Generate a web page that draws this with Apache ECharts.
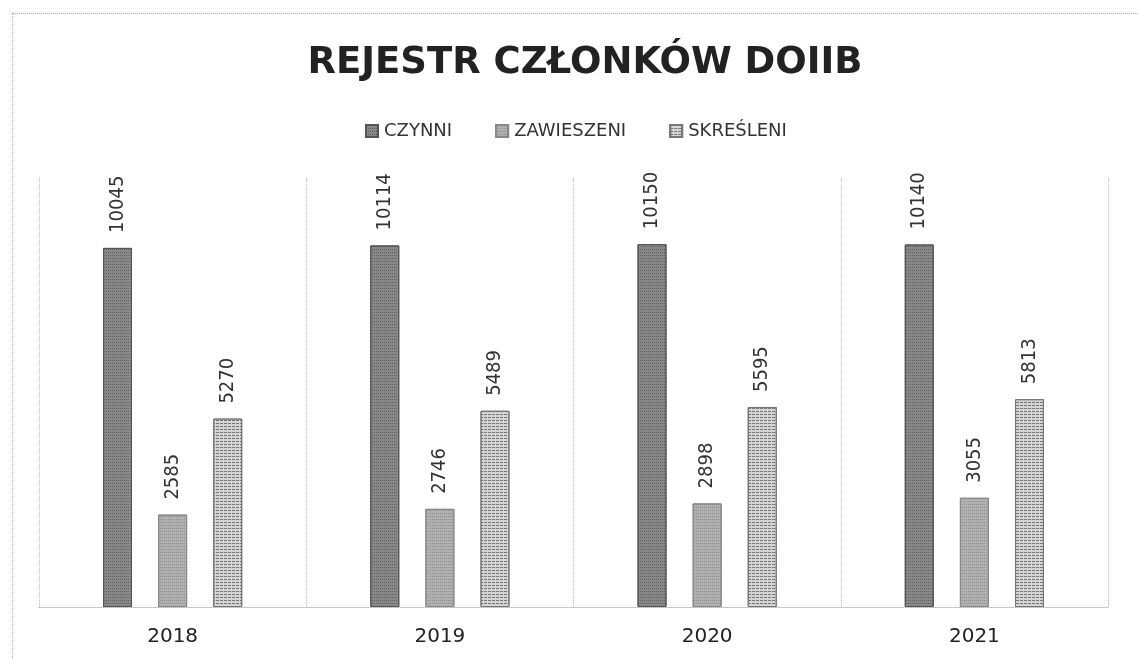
<!DOCTYPE html>
<html><head><meta charset="utf-8">
<script src="https://cdn.jsdelivr.net/npm/echarts@6/dist/echarts.min.js"></script>
<style>
html,body{margin:0;padding:0;background:#fff;}
#c{width:1138px;height:659px;position:relative;}
#frame{position:absolute;left:12px;top:13px;width:1140px;height:660px;border:1px dotted #aaa;box-sizing:border-box;pointer-events:none;}
</style></head>
<body><div id="c"></div><div id="frame"></div>
<script>
const categories = ['2018', '2019', '2020', '2021'];
const czynni = [10045, 10114, 10150, 10140];
const zawieszeni = [2585, 2746, 2898, 3055];
const skresleni = [5270, 5489, 5595, 5813];
const seriesNames = ['CZYNNI', 'ZAWIESZENI', 'SKREŚLENI'];
const titleText = 'REJESTR CZŁONKÓW DOIIB';

const chart = echarts.init(document.getElementById('c'));
const labelCfg = {
  show: true, position: 'top', rotate: 90, distance: 15, align: 'left', verticalAlign: 'middle',
  fontFamily: '"Liberation Sans Narrow", "DejaVu Sans Condensed", "DejaVu Sans"', fontSize: 20, color: '#333'
};
function mk(name, data, color, border, decal) {
  return {
    name, type: 'bar', data, barWidth: 29, barGap: '90%',
    itemStyle: { color, borderColor: border, borderWidth: 1, decal },
    label: labelCfg
  };
}
chart.setOption({
  animation: false,
  aria: { enabled: false },
  title: {
    text: titleText, left: 580, top: 40, textAlign: 'center',
    textStyle: { fontFamily: 'DejaVu Sans', fontWeight: 'bold', fontSize: 37, color: '#222' }
  },
  legend: {
    data: seriesNames, top: 117, left: 360, itemWidth: 12, itemHeight: 12, itemGap: 43,
    icon: 'rect',
    textStyle: { fontFamily: 'DejaVu Sans', fontSize: 18, color: '#333', padding: [0,0,0,1] }
  },
  grid: { left: 39, right: 30, top: 178, bottom: 52 },
  xAxis: {
    type: 'category', data: categories,
    axisLine: { lineStyle: { color: '#bbb', type: 'dotted' } },
    axisTick: { show: false },
    splitLine: { show: true, lineStyle: { color: '#bbb', type: 'dotted' } },
    axisLabel: { fontFamily: 'DejaVu Sans', fontSize: 20, color: '#222', margin: 20 }
  },
  yAxis: {
    type: 'value', min: 0, max: 12000, show: false, splitLine: { show: false }
  },
  series: [
    mk(seriesNames[0], czynni, '#888888', '#555',
       { symbol: 'rect', symbolSize: 1, dashArrayX: [1, 1], dashArrayY: [1, 2], color: 'rgba(50,50,50,0.45)' }),
    mk(seriesNames[1], zawieszeni, '#b0b0b0', '#888',
       { symbol: 'rect', symbolSize: 1, dashArrayX: [1, 1], dashArrayY: [1, 2], color: 'rgba(80,80,80,0.35)' }),
    mk(seriesNames[2], skresleni, '#d4d4d4', '#777',
       { symbol: 'rect', symbolSize: 1, dashArrayX: [[3, 1]], dashArrayY: [1, 2], color: 'rgba(40,40,40,0.55)' })
  ]
});
</script></body></html>
